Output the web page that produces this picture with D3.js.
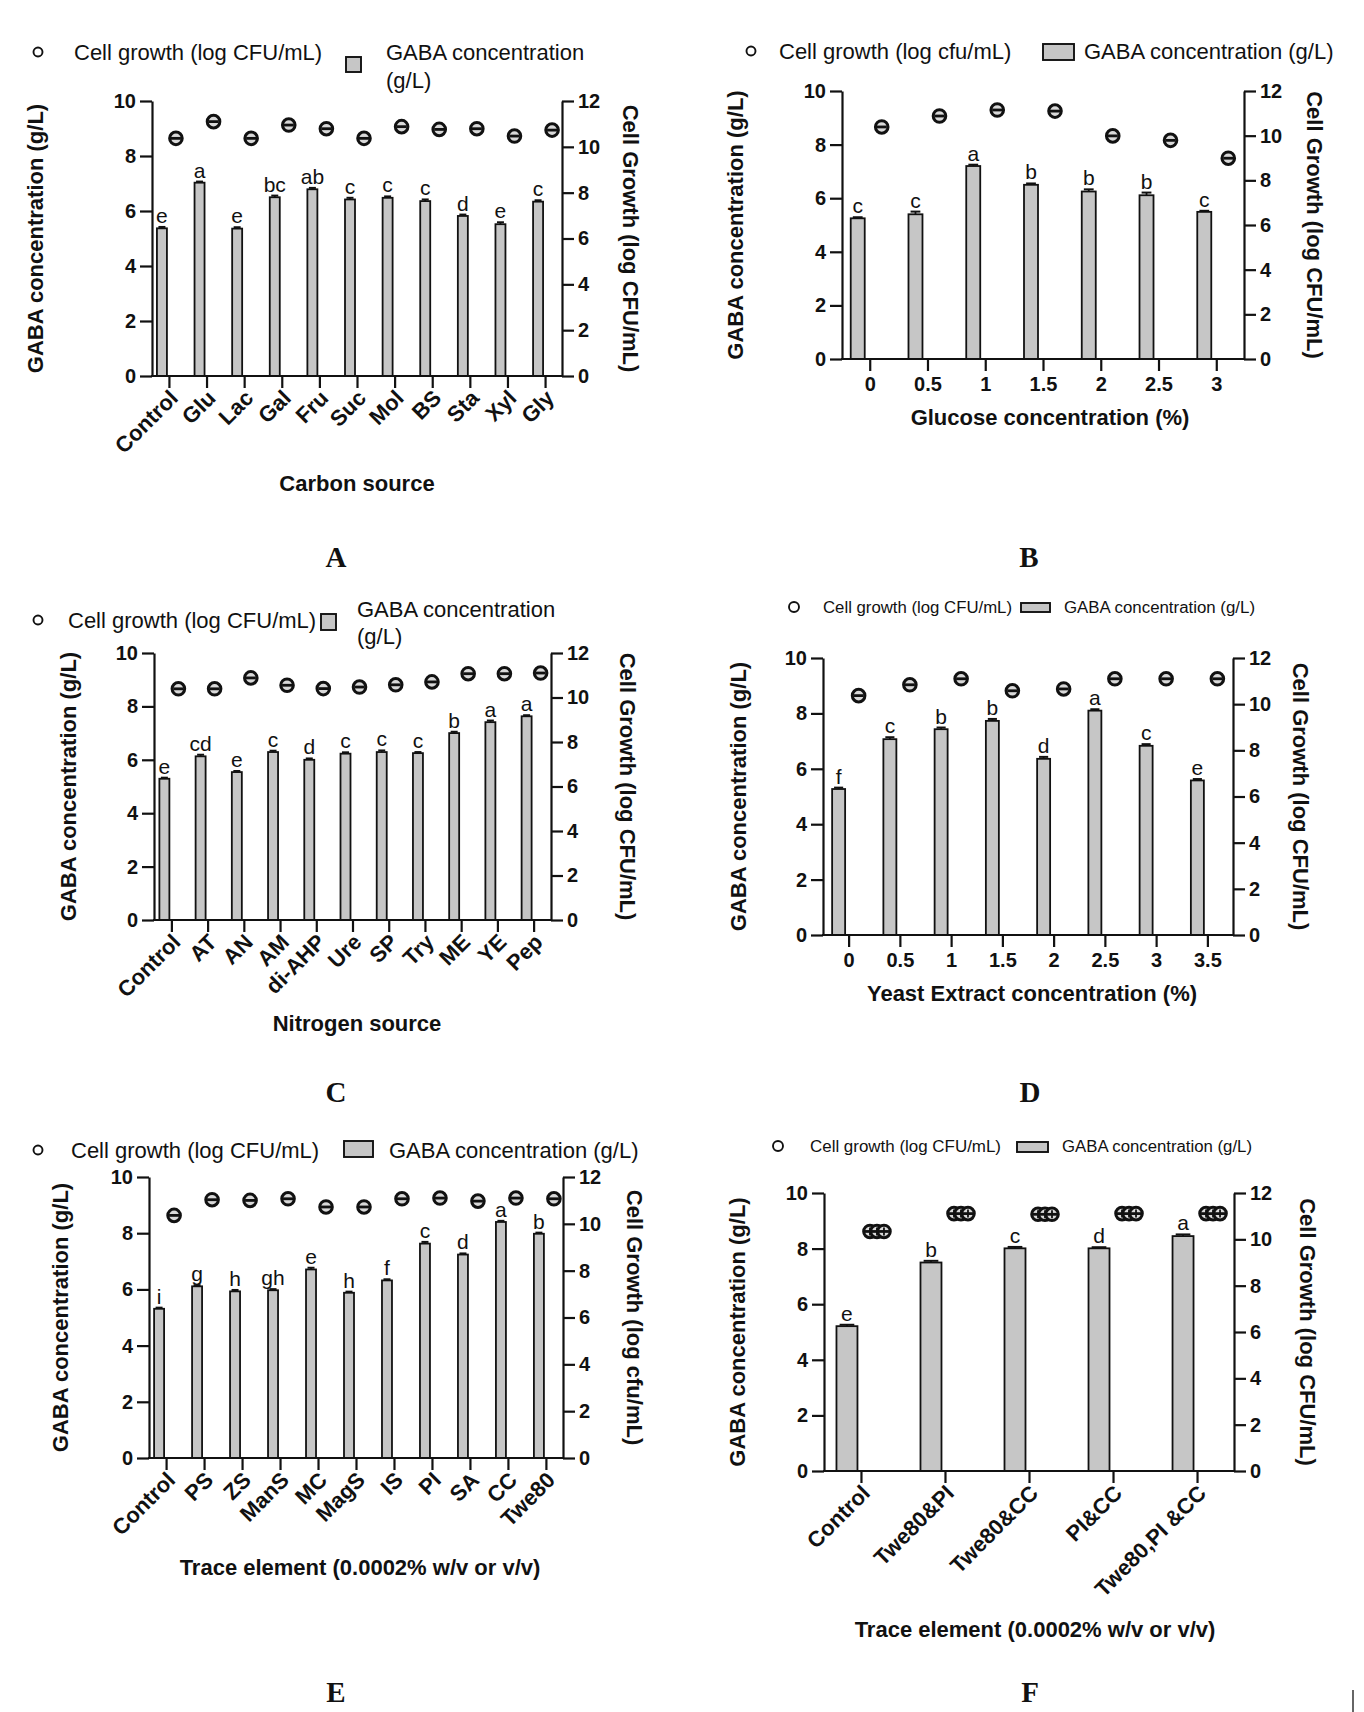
<!DOCTYPE html>
<html><head><meta charset="utf-8">
<script src="https://cdnjs.cloudflare.com/ajax/libs/d3/7.8.5/d3.min.js"></script>
<style>
body{margin:0;background:#fff}
svg{display:block}
text{font-family:"Liberation Sans",Arial,Helvetica,sans-serif;fill:#111}
</style>
</head><body>
<svg id="c" width="1364" height="1712"></svg>
<script>
// ---------- DATA ----------
const gabaTicks = [0, 2, 4, 6, 8, 10];
const growthTicks = [0, 2, 4, 6, 8, 10, 12];

const catA = ["Control","Glu","Lac","Gal","Fru","Suc","Mol","BS","Sta","Xyl","Gly"];
const gabaA = [5.37,7.03,5.36,6.50,6.79,6.42,6.48,6.36,5.82,5.52,6.34];
const errA = [0.05,0.04,0.05,0.06,0.05,0.06,0.05,0.06,0.05,0.07,0.05];
const growthA = [10.37,11.10,10.37,10.95,10.79,10.37,10.88,10.76,10.79,10.47,10.73];
const lettersA = ["e","a","e","bc","ab","c","c","c","d","e","c"];

const catB = ["0","0.5","1","1.5","2","2.5","3"];
const gabaB = [5.25,5.40,7.20,6.50,6.25,6.11,5.49];
const errB = [0.04,0.10,0.05,0.05,0.08,0.10,0.04];
const growthB = [10.39,10.88,11.15,11.10,9.99,9.79,8.99];
const lettersB = ["c","c","a","b","b","b","c"];

const catC = ["Control","AT","AN","AM","di-AHP","Ure","SP","Try","ME","YE","Pep"];
const gabaC = [5.29,6.13,5.54,6.29,6.00,6.23,6.29,6.25,7.00,7.41,7.63];
const errC = [0.04,0.06,0.04,0.05,0.05,0.05,0.06,0.04,0.05,0.06,0.04];
const growthC = [10.39,10.39,10.88,10.55,10.40,10.47,10.57,10.70,11.07,11.07,11.10];
const lettersC = ["e","cd","e","c","d","c","c","c","b","a","a"];

const catD = ["0","0.5","1","1.5","2","2.5","3","3.5"];
const gabaD = [5.27,7.07,7.43,7.73,6.36,8.10,6.83,5.58];
const errD = [0.05,0.07,0.06,0.07,0.07,0.05,0.06,0.05];
const growthD = [10.37,10.84,11.10,10.58,10.66,11.10,11.10,11.10];
const lettersD = ["f","c","b","b","d","a","c","e"];

const catE = ["Control","PS","ZS","ManS","MC","MagS","IS","PI","SA","CC","Twe80"];
const gabaE = [5.31,6.11,5.93,5.97,6.71,5.88,6.32,7.63,7.24,8.40,7.98];
const errE = [0.04,0.04,0.05,0.04,0.06,0.04,0.04,0.06,0.04,0.04,0.04];
const growthE = [10.36,11.03,11.00,11.07,10.72,10.72,11.07,11.10,10.97,11.10,11.07];
const lettersE = ["i","g","h","gh","e","h","f","c","d","a","b"];

const catF = ["Control","Twe80&PI","Twe80&CC","PI&CC","Twe80,PI &CC"];
const gabaF = [5.21,7.50,8.01,8.01,8.45];
const errF = [0.05,0.06,0.05,0.04,0.06];
const growthF = [10.34,11.11,11.08,11.11,11.11];
const lettersF = ["e","b","c","d","a"];
const replicateOffsetsF = [-7, 0, 7];

// ---------- PANELS ----------
const panels = [
  {id:"A", cats:catA, gaba:gabaA, err:errA, growth:growthA, letters:lettersA,
   L:152, R:562, T:101, B:376, pad:0.45, barW:10, offB:7, offC:7, rot:true,
   leftTitle:"GABA concentration (g/L)", leftCx:35, rightTitle:"Cell Growth (log CFU/mL)", rightCx:631,
   xTitle:"Carbon source", xTx:357, xTy:483, tag:[336,557],
   legend:[{t:"c",x:38,y:52,r:4.5},{t:"t",x:74,y:52,s:22,v:"Cell growth (log CFU/mL)"},
           {t:"r",x:346,y:57,w:15,h:15},{t:"t",x:386,y:52,s:22,v:"GABA concentration"},{t:"t",x:386,y:80,s:22,v:"(g/L)"}]},
  {id:"B", cats:catB, gaba:gabaB, err:errB, growth:growthB, letters:lettersB,
   L:842, R:1244, T:91, B:359, pad:0.48, barW:14, offB:12, offC:12, rot:false,
   leftTitle:"GABA concentration (g/L)", leftCx:735, rightTitle:"Cell Growth (log CFU/mL)", rightCx:1315,
   xTitle:"Glucose concentration (%)", xTx:1050, xTy:417, tag:[1029,557],
   legend:[{t:"c",x:751,y:51,r:4.5},{t:"t",x:779,y:51,s:22,v:"Cell growth (log cfu/mL)"},
           {t:"r",x:1043,y:44,w:31,h:16},{t:"t",x:1084,y:51,s:22,v:"GABA concentration (g/L)"}]},
  {id:"C", cats:catC, gaba:gabaC, err:errC, growth:growthC, letters:lettersC,
   L:154, R:551, T:653, B:920, pad:0.48, barW:10, offB:7, offC:7, rot:true,
   leftTitle:"GABA concentration (g/L)", leftCx:68, rightTitle:"Cell Growth (log CFU/mL)", rightCx:628,
   xTitle:"Nitrogen source", xTx:357, xTy:1023, tag:[336,1092],
   legend:[{t:"c",x:38,y:620,r:4.5},{t:"t",x:68,y:620,s:22,v:"Cell growth (log CFU/mL)"},
           {t:"r",x:321,y:614,w:15,h:16},{t:"t",x:357,y:609,s:22,v:"GABA concentration"},{t:"t",x:357,y:636,s:22,v:"(g/L)"}]},
  {id:"D", cats:catD, gaba:gabaD, err:errD, growth:growthD, letters:lettersD,
   L:823, R:1233, T:658, B:935, pad:0.5, barW:13, offB:10, offC:10, rot:false,
   leftTitle:"GABA concentration (g/L)", leftCx:738, rightTitle:"Cell Growth (log CFU/mL)", rightCx:1301,
   xTitle:"Yeast Extract concentration (%)", xTx:1032, xTy:993, tag:[1030,1092],
   legend:[{t:"c",x:794,y:607,r:5},{t:"t",x:823,y:607,s:16,len:189,v:"Cell growth (log CFU/mL)"},
           {t:"r",x:1021,y:603,w:29,h:9},{t:"t",x:1064,y:607,s:16,len:191,v:"GABA concentration (g/L)"}]},
  {id:"E", cats:catE, gaba:gabaE, err:errE, growth:growthE, letters:lettersE,
   L:149, R:563, T:1177, B:1458, pad:0.45, barW:10, offB:7, offC:8, rot:true,
   leftTitle:"GABA concentration (g/L)", leftCx:60, rightTitle:"Cell Growth (log cfu/mL)", rightCx:635,
   xTitle:"Trace element (0.0002% w/v or v/v)", xTx:360, xTy:1567, tag:[336,1692],
   legend:[{t:"c",x:38,y:1150,r:4.5},{t:"t",x:71,y:1150,s:22,v:"Cell growth (log CFU/mL)"},
           {t:"r",x:344,y:1141,w:29,h:16},{t:"t",x:389,y:1150,s:22,v:"GABA concentration (g/L)"}]},
  {id:"F", cats:catF, gaba:gabaF, err:errF, growth:growthF, letters:lettersF, reps:replicateOffsetsF,
   L:824, R:1234, T:1193, B:1471, pad:0.44, barW:21, offB:14, offC:16, rot:true,
   leftTitle:"GABA concentration (g/L)", leftCx:737, rightTitle:"Cell Growth (log CFU/mL)", rightCx:1308,
   xTitle:"Trace element (0.0002% w/v or v/v)", xTx:1035, xTy:1629, tag:[1030,1692],
   legend:[{t:"c",x:778,y:1146,r:5},{t:"t",x:810,y:1146,s:16,len:191,v:"Cell growth (log CFU/mL)"},
           {t:"r",x:1017,y:1142,w:31,h:10},{t:"t",x:1062,y:1146,s:16,len:190,v:"GABA concentration (g/L)"}]}
];

const svg = d3.select("#c");

function styleAxis(sel, fs){
  sel.selectAll("path,line").attr("stroke","#111").attr("stroke-width",2.2);
  sel.selectAll("text").attr("font-size",fs).attr("font-weight","bold")
     .attr("font-family",'"Liberation Sans",Arial,sans-serif').attr("fill","#111");
  sel.attr("font-family",null).attr("font-size",null);
}

function drawMarker(g, reps){
  const offs = reps || [0];
  offs.forEach(o=>{
    g.append("circle").attr("cx",o).attr("cy",0).attr("r",6.3)
      .attr("fill","#d9d9d9").attr("stroke","#111").attr("stroke-width",3);
  });
  const w = reps ? 5 + (d3.max(offs)-d3.min(offs))/2 : 5;
  g.append("line").attr("x1",-w).attr("x2",w).attr("y1",0).attr("y2",0)
    .attr("stroke","#111").attr("stroke-width",2.8);
  if (reps) offs.forEach(o=>{
    g.append("line").attr("x1",o).attr("x2",o).attr("y1",-4).attr("y2",4)
      .attr("stroke","#111").attr("stroke-width",1.8);
  });
}

function drawPanel(p){
  const g = svg.append("g").attr("class","panel-"+p.id);
  const x = d3.scalePoint().domain(p.cats).range([p.L,p.R]).padding(p.pad);
  const yL = d3.scaleLinear().domain([0,10]).range([p.B,p.T]);
  const yR = d3.scaleLinear().domain([0,12]).range([p.B,p.T]);

  // bars
  g.append("g").selectAll("rect").data(p.cats).join("rect")
    .attr("x", d=>x(d)-p.offB-p.barW/2)
    .attr("y", (d,i)=>yL(p.gaba[i]))
    .attr("width", p.barW)
    .attr("height", (d,i)=>yL(0)-yL(p.gaba[i]))
    .attr("fill","#c6c6c6").attr("stroke","#111").attr("stroke-width",1.8);

  // error bars (upper)
  const eb = g.append("g");
  p.cats.forEach((d,i)=>{
    const cx = x(d)-p.offB;
    const y1 = yL(p.gaba[i]), y2 = yL(p.gaba[i]+p.err[i]);
    eb.append("line").attr("x1",cx).attr("x2",cx).attr("y1",y1).attr("y2",y2).attr("stroke","#111").attr("stroke-width",1.8);
    eb.append("line").attr("x1",cx-p.barW*0.35).attr("x2",cx+p.barW*0.35).attr("y1",y2).attr("y2",y2).attr("stroke","#111").attr("stroke-width",2);
  });

  // letters
  g.append("g").selectAll("text").data(p.cats).join("text")
    .attr("x", d=>x(d)-p.offB)
    .attr("y", (d,i)=>yL(p.gaba[i]+p.err[i])-4)
    .attr("text-anchor","middle").attr("font-size",21)
    .text((d,i)=>p.letters[i]);

  // growth markers
  p.cats.forEach((d,i)=>{
    const mg = g.append("g").attr("transform",`translate(${x(d)+p.offC},${yR(p.growth[i])})`);
    drawMarker(mg, p.reps);
  });

  // axes
  const aL = g.append("g").attr("transform",`translate(${p.L},0)`)
    .call(d3.axisLeft(yL).tickValues(gabaTicks).tickSize(12).tickSizeOuter(0).tickPadding(4));
  styleAxis(aL,20);
  const aR = g.append("g").attr("transform",`translate(${p.R},0)`)
    .call(d3.axisRight(yR).tickValues(growthTicks).tickSize(12).tickSizeOuter(0).tickPadding(4));
  styleAxis(aR,20);
  g.append("line").attr("x1",p.L-1).attr("x2",p.R+1).attr("y1",p.B).attr("y2",p.B)
    .attr("stroke","#111").attr("stroke-width",2.2);
  const aB = g.append("g").attr("transform",`translate(0,${p.B})`)
    .call(d3.axisBottom(x).tickSize(12).tickSizeOuter(0).tickPadding(6)
      .tickFormat(p.rot ? ()=>"" : d=>d));
  aB.select(".domain").remove();
  styleAxis(aB,20);

  if (p.rot){
    g.append("g").selectAll("text").data(p.cats).join("text")
      .attr("transform", d=>`translate(${x(d)+5},${p.B+18}) rotate(-45)`)
      .attr("text-anchor","end").attr("dy","0.35em")
      .attr("font-size",22).attr("font-weight","bold")
      .text(d=>d);
  }

  // titles
  const cy = (p.T+p.B)/2;
  g.append("text").attr("transform",`translate(${p.leftCx},${cy}) rotate(-90)`)
    .attr("text-anchor","middle").attr("dy","0.35em").attr("font-size",22).attr("font-weight","bold")
    .text(p.leftTitle);
  g.append("text").attr("transform",`translate(${p.rightCx},${cy}) rotate(90)`)
    .attr("text-anchor","middle").attr("dy","0.35em").attr("font-size",22).attr("font-weight","bold")
    .text(p.rightTitle);
  g.append("text").attr("x",p.xTx).attr("y",p.xTy).attr("dy","0.35em")
    .attr("text-anchor","middle").attr("font-size",22).attr("font-weight","bold")
    .text(p.xTitle);

  // panel tag
  g.append("text").attr("x",p.tag[0]).attr("y",p.tag[1]).attr("dy","0.35em")
    .attr("text-anchor","middle").attr("font-size",29).attr("font-weight","bold")
    .style("font-family",'"Liberation Serif","Times New Roman",serif')
    .text(p.id);

  // legend
  p.legend.forEach(it=>{
    if (it.t==="c") g.append("circle").attr("cx",it.x).attr("cy",it.y).attr("r",it.r)
      .attr("fill","#fff").attr("stroke","#111").attr("stroke-width",1.9);
    else if (it.t==="r") g.append("rect").attr("x",it.x).attr("y",it.y).attr("width",it.w).attr("height",it.h)
      .attr("fill","#c6c6c6").attr("stroke","#111").attr("stroke-width",1.9);
    else {
      const t = g.append("text").attr("x",it.x).attr("y",it.y).attr("dy","0.35em")
        .attr("font-size",it.s).text(it.v);
      if (it.len) t.attr("textLength",it.len).attr("lengthAdjust","spacingAndGlyphs");
    }
  });
}

panels.forEach(drawPanel);

// small mark at the lower-right edge
svg.append("line").attr("x1",1353).attr("x2",1353).attr("y1",1690).attr("y2",1712)
  .attr("stroke","#333").attr("stroke-width",1.5);
</script>
</body></html>
